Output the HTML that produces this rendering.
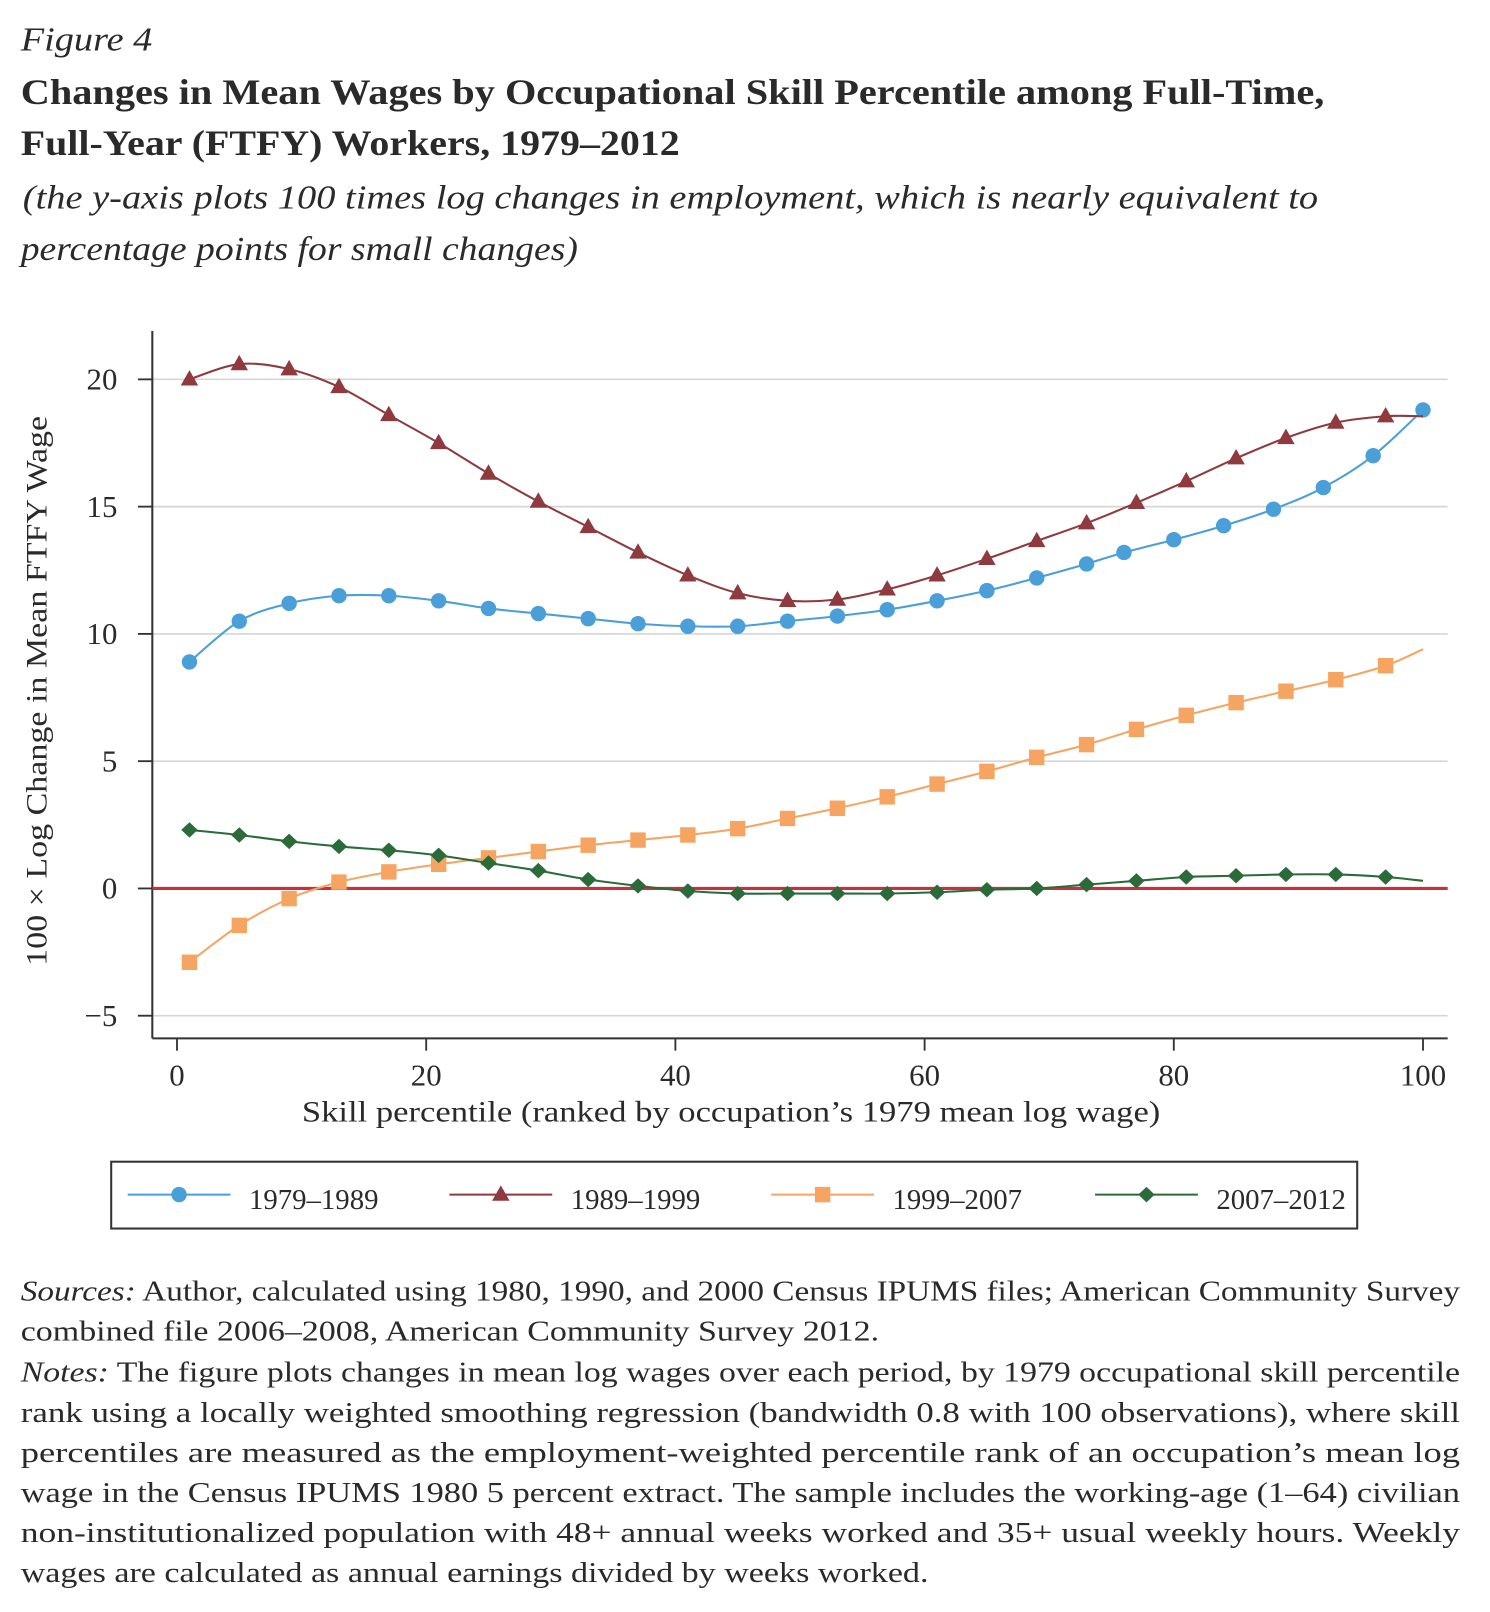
<!DOCTYPE html>
<html><head><meta charset="utf-8"><style>
html,body{margin:0;padding:0;background:#fff;}
svg{display:block;}
text{font-family:"Liberation Serif",serif;fill:#2a2a2a;}
</style></head>
<body>
<svg id="fig" width="1490" height="1612" viewBox="0 0 1449 1568" xmlns="http://www.w3.org/2000/svg">
<text x="20" y="49" font-size="33" font-style="italic" textLength="128" lengthAdjust="spacingAndGlyphs">Figure 4</text>
<text x="20" y="101" font-size="35" font-weight="bold" textLength="1268" lengthAdjust="spacingAndGlyphs">Changes in Mean Wages by Occupational Skill Percentile among Full-Time,</text>
<text x="20" y="151" font-size="35" font-weight="bold" textLength="641" lengthAdjust="spacingAndGlyphs">Full-Year (FTFY) Workers, 1979–2012</text>
<text x="22" y="203" font-size="33" font-style="italic" textLength="1260" lengthAdjust="spacingAndGlyphs">(the y-axis plots 100 times log changes in employment, which is nearly equivalent to</text>
<text x="20" y="253" font-size="33" font-style="italic" textLength="542" lengthAdjust="spacingAndGlyphs">percentage points for small changes)</text>

<g id="grid"></g>
<g id="axes"></g>
<g id="series"></g>

<text transform="translate(45,672) rotate(-90)" text-anchor="middle" font-size="29" textLength="535" lengthAdjust="spacingAndGlyphs">100 × Log Change in Mean FTFY Wage</text>
<text x="711" y="1091" text-anchor="middle" font-size="29" textLength="835" lengthAdjust="spacingAndGlyphs">Skill percentile (ranked by occupation’s 1979 mean log wage)</text>

<g id="legend">
<rect x="108" y="1130" width="1212" height="65" fill="none" stroke="#333" stroke-width="2"/>
</g>

<g font-size="28">
<text x="20" y="1265" textLength="1400" lengthAdjust="spacingAndGlyphs"><tspan font-style="italic">Sources:</tspan> Author, calculated using 1980, 1990, and 2000 Census IPUMS files; American Community Survey</text>
<text x="20" y="1304" textLength="835" lengthAdjust="spacingAndGlyphs">combined file 2006–2008, American Community Survey 2012.</text>
<text x="20" y="1344" textLength="1400" lengthAdjust="spacingAndGlyphs"><tspan font-style="italic">Notes:</tspan> The figure plots changes in mean log wages over each period, by 1979 occupational skill percentile</text>
<text x="20" y="1383" textLength="1400" lengthAdjust="spacingAndGlyphs">rank using a locally weighted smoothing regression (bandwidth 0.8 with 100 observations), where skill</text>
<text x="20" y="1422" textLength="1400" lengthAdjust="spacingAndGlyphs">percentiles are measured as the employment-weighted percentile rank of an occupation’s mean log</text>
<text x="20" y="1461" textLength="1400" lengthAdjust="spacingAndGlyphs">wage in the Census IPUMS 1980 5 percent extract. The sample includes the working-age (1–64) civilian</text>
<text x="20" y="1500" textLength="1400" lengthAdjust="spacingAndGlyphs">non-institutionalized population with 48+ annual weeks worked and 35+ usual weekly hours. Weekly</text>
<text x="20" y="1539" textLength="883" lengthAdjust="spacingAndGlyphs">wages are calculated as annual earnings divided by weeks worked.</text>
</g>
</svg>
<script>
const xBlue = [1,5,9,13,17,21,25,29,33,37,41,45,49,53,57,61,65,69,73,76,80,84,88,92,96,100];
const yBlue = [8.9,10.5,11.2,11.5,11.5,11.3,11.0,10.8,10.6,10.4,10.3,10.3,10.5,10.7,10.95,11.3,11.7,12.2,12.75,13.2,13.7,14.25,14.9,15.75,17.0,18.8];
const xStep = [1,5,9,13,17,21,25,29,33,37,41,45,49,53,57,61,65,69,73,77,81,85,89,93,97,100];
const yRed = [20,20.6,20.4,19.7,18.6,17.5,16.3,15.2,14.2,13.2,12.3,11.6,11.3,11.35,11.75,12.3,12.95,13.65,14.35,15.15,16.0,16.9,17.7,18.3,18.55,18.55];
const yOrange = [-2.9,-1.45,-0.4,0.25,0.65,0.95,1.2,1.45,1.7,1.9,2.1,2.35,2.75,3.15,3.6,4.1,4.6,5.15,5.65,6.25,6.8,7.3,7.75,8.2,8.75,9.4];
const yGreen = [2.3,2.1,1.85,1.65,1.5,1.3,1.0,0.7,0.35,0.1,-0.1,-0.2,-0.2,-0.2,-0.2,-0.15,-0.05,0.0,0.15,0.3,0.45,0.5,0.55,0.55,0.45,0.3];
const yTicks = [-5,0,5,10,15,20];
const xTicks = [0,20,40,60,80,100];
const seriesNames = ["1979–1989","1989–1999","1999–2007","2007–2012"];

const NS="http://www.w3.org/2000/svg";
const X0=172,X1=1384,Y20=369,Ym5=988;
const sx=v=>X0+(X1-X0)*v/100;
const sy=v=>Ym5+(Y20-Ym5)*(v+5)/25;
function mk(tag,attrs,parent){const e=document.createElementNS(NS,tag);for(const k in attrs)e.setAttribute(k,attrs[k]);parent.appendChild(e);return e;}
const grid=document.getElementById('grid'),axes=document.getElementById('axes'),ser=document.getElementById('series'),leg=document.getElementById('legend');
const L=148,R=1408,B=1010,T=322;
yTicks.forEach(t=>{
  const g=mk('line',{x1:L,x2:R,y1:sy(t),y2:sy(t),stroke:'#d6d6d6','stroke-width':1.6},grid);
  
  
  const tk=mk('line',{x1:L-14,x2:L,y1:sy(t),y2:sy(t),stroke:'#333','stroke-width':1.8},axes);
  
  
  const lb=mk('text',{x:114,y:sy(t)+10,'text-anchor':'end','font-size':30},axes);
  lb.textContent=t<0?'−'+Math.abs(t):String(t);
  
  
});
xTicks.forEach(t=>{
  const tk=mk('line',{x1:sx(t),x2:sx(t),y1:B,y2:B+12,stroke:'#333','stroke-width':1.8},axes);
  
  
  const lb=mk('text',{x:sx(t),y:B+46,'text-anchor':'middle','font-size':30},axes);
  lb.textContent=String(t);
  
  
});
const ya=mk('line',{x1:L,x2:L,y1:T,y2:B,stroke:'#333','stroke-width':2},axes);


const xa=mk('line',{x1:L,x2:R,y1:B,y2:B,stroke:'#333','stroke-width':2},axes);


const zl=mk('line',{x1:L,x2:R,y1:sy(0),y2:sy(0),stroke:'#c8303c','stroke-width':3},axes);



function smooth(pts){
  let d='M'+pts[0][0]+','+pts[0][1];
  for(let i=0;i<pts.length-1;i++){
    const p0=pts[i-1]||pts[i],p1=pts[i],p2=pts[i+1],p3=pts[i+2]||p2;
    const c1=[p1[0]+(p2[0]-p0[0])/6,p1[1]+(p2[1]-p0[1])/6];
    const c2=[p2[0]-(p3[0]-p1[0])/6,p2[1]-(p3[1]-p1[1])/6];
    d+=' C'+c1[0]+','+c1[1]+' '+c2[0]+','+c2[1]+' '+p2[0]+','+p2[1];
  }
  return d;
}
function marker(type,cx,cy,color,parent,s){
  s=s||1;
  if(type==='circle') return mk('circle',{cx:cx,cy:cy,r:7.5*s,fill:color},parent);
  if(type==='tri') return mk('polygon',{points:`${cx},${cy-9*s} ${cx-8.5*s},${cy+6*s} ${cx+8.5*s},${cy+6*s}`,fill:color},parent);
  if(type==='square') return mk('rect',{x:cx-7.5*s,y:cy-7.5*s,width:15*s,height:15*s,fill:color},parent);
  return mk('polygon',{points:`${cx},${cy-7.5*s} ${cx+8*s},${cy} ${cx},${cy+7.5*s} ${cx-8*s},${cy}`,fill:color},parent);
}
const defs=[
  {xs:xBlue,ys:yBlue,color:'#4a9fd8',m:'circle',key:'1979-1989',markAll:true},
  {xs:xStep,ys:yRed,color:'#8e3a3e',m:'tri',key:'1989-1999',markAll:false},
  {xs:xStep,ys:yOrange,color:'#f5a561',m:'square',key:'1999-2007',markAll:false},
  {xs:xStep,ys:yGreen,color:'#2b6b3a',m:'diamond',key:'2007-2012',markAll:false}
];
defs.forEach(s=>{
  const g=mk('g',{},ser);
  
  
  const pts=s.xs.map((x,i)=>[sx(x),sy(s.ys[i])]);
  const p=mk('path',{d:smooth(pts),fill:'none',stroke:s.color,'stroke-width':2},g);
  
  
  s.xs.forEach((x,i)=>{
    if(!s.markAll && i===s.xs.length-1) return;
    const m=marker(s.m,sx(x),sy(s.ys[i]),s.color,g);
    
    
  });
});
const legX=[124,437,750,1065];
defs.forEach((s,i)=>{
  const g=mk('g',{},leg);
  
  
  mk('line',{x1:legX[i],x2:legX[i]+100,y1:1162,y2:1162,stroke:s.color,'stroke-width':2},g);
  marker(s.m,legX[i]+50,1162,s.color,g);
  const t=mk('text',{x:legX[i]+118,y:1176,'font-size':28,textLength:126,lengthAdjust:'spacingAndGlyphs'},g);
  t.textContent=seriesNames[i];
});
</script>
</body></html>
